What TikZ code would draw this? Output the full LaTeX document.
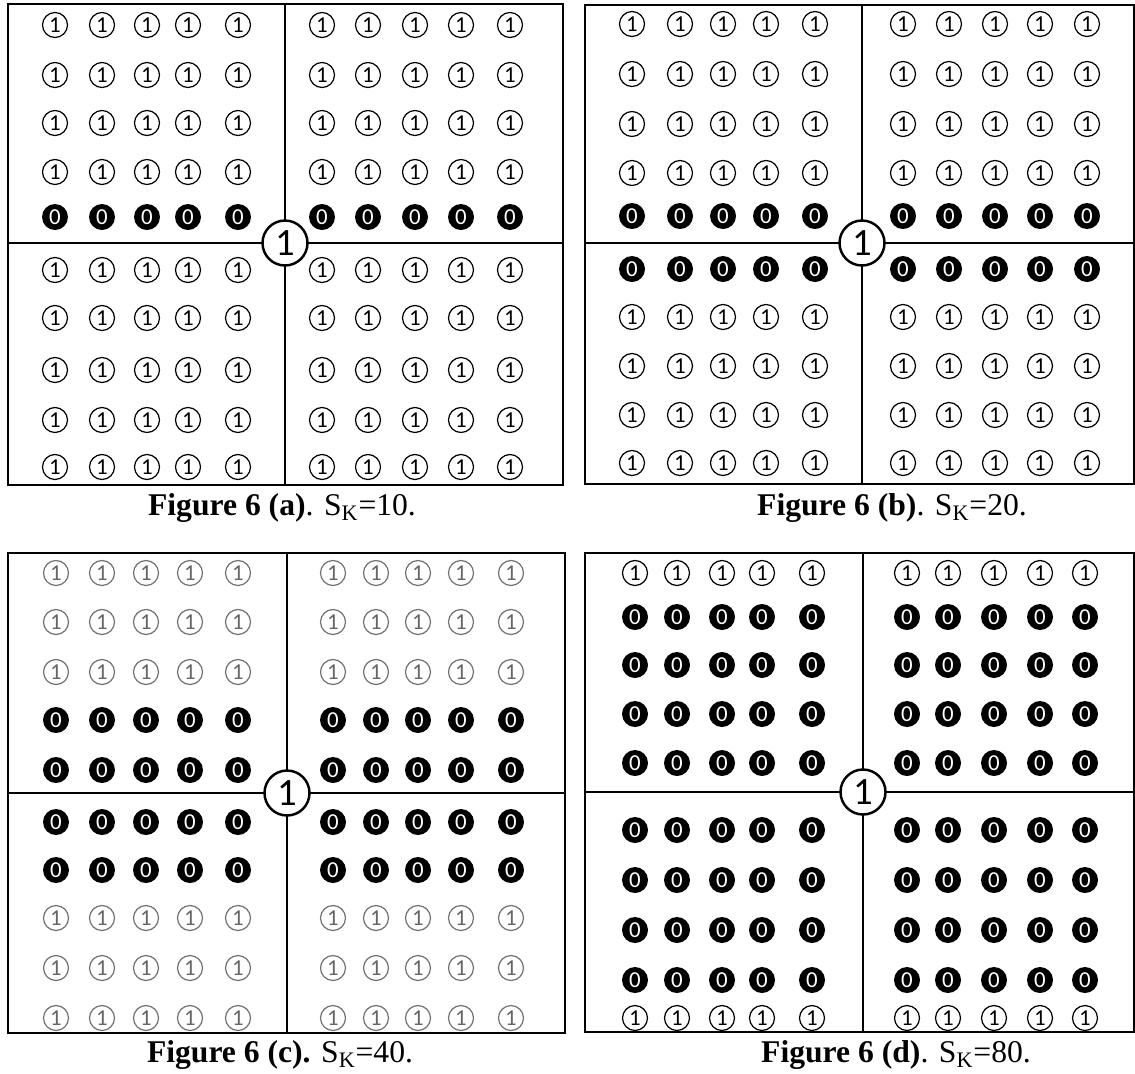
\documentclass[tikz,border=0pt]{standalone}
\usepackage{fontspec}
\setmainfont{Liberation Serif}
\newfontfamily\digitfont{Carlito}
\usetikzlibrary{positioning}

\begin{document}
\begin{tikzpicture}[x=0.02cm, y=-0.02cm]
  \tikzset{
    frame/.style={draw, line width=1.6pt},
    divider/.style={draw, line width=0.9pt},
    one/.style={circle, draw, line width=0.7pt, minimum size=0.5cm, inner sep=0pt, font=\digitfont\fontsize{13}{13}\selectfont},
    grayone/.style={one, draw=black!55, text=black!60},
    zero/.style={circle, fill=black, text=white, minimum size=0.52cm, inner sep=0pt, font=\digitfont\fontsize{13}{13}\selectfont},
    hub/.style={circle, draw, fill=white, line width=1.4pt, minimum size=0.9cm, inner sep=0pt, font=\digitfont\fontsize{22}{22}\selectfont},
    caption/.style={font=\fontsize{18}{18}\selectfont}
  }
  \useasboundingbox (0,0) rectangle (1135,1073);

  % Figure 6 (a)
  \begin{scope}
    \draw[frame] (8,4) rectangle (563,485);
    \draw[divider] (285,4) -- (285,485);
    \draw[divider] (8,243) -- (563,243);
    \foreach \y/\k/\d [count=\r] in {25/one/1,75/one/1,123/one/1,172/one/1,217/zero/0,
                                   270/one/1,318/one/1,370/one/1,420/one/1,467/one/1}
      \foreach \x [count=\c] in {55,102,147,188,238,322,368,415,461,510}
        \node[\k] (a-\r-\c) at (\x,\y) {\d};
    \node[hub] (hub-a) at (285,243) {1};
    \node[caption] (cap-a) at (282,508) {\textbf{Figure 6 (a)}. S\textsubscript{K}=10.};
  \end{scope}

  % Figure 6 (b)
  \begin{scope}
    \draw[frame] (585,5) rectangle (1134,484);
    \draw[divider] (862,5) -- (862,484);
    \draw[divider] (585,243) -- (1134,243);
    \foreach \y/\k/\d [count=\r] in {24/one/1,74/one/1,124/one/1,173/one/1,216/zero/0,
                                   269/zero/0,317/one/1,366/one/1,415/one/1,463/one/1}
      \foreach \x [count=\c] in {632,680,723,766,815,903,949,995,1040,1087}
        \node[\k] (b-\r-\c) at (\x,\y) {\d};
    \node[hub] (hub-b) at (862,243) {1};
    \node[caption] (cap-b) at (892,508) {\textbf{Figure 6 (b)}. S\textsubscript{K}=20.};
  \end{scope}

  % Figure 6 (c)
  \begin{scope}
    \draw[frame] (8,553) rectangle (565,1033);
    \draw[divider] (287,553) -- (287,1033);
    \draw[divider] (8,793) -- (565,793);
    \foreach \y/\k/\d [count=\r] in {573/grayone/1,622/grayone/1,672/grayone/1,720/zero/0,770/zero/0,
                                   822/zero/0,870/zero/0,918/grayone/1,968/grayone/1,1018/grayone/1}
      \foreach \x [count=\c] in {56,102,146,190,238,333,376,418,461,511}
        \node[\k] (c-\r-\c) at (\x,\y) {\d};
    \node[hub] (hub-c) at (287,793) {1};
    \node[caption] (cap-c) at (280,1055) {\textbf{Figure 6 (c).} S\textsubscript{K}=40.};
  \end{scope}

  % Figure 6 (d)
  \begin{scope}
    \draw[frame] (585,553) rectangle (1134,1032);
    \draw[divider] (863,553) -- (863,1032);
    \draw[divider] (585,792) -- (1134,792);
    \foreach \y/\k/\d [count=\r] in {573/one/1,617/zero/0,665/zero/0,714/zero/0,763/zero/0,
                                   830/zero/0,880/zero/0,930/zero/0,980/zero/0,1018/one/1}
      \foreach \x [count=\c] in {635,677,722,762,812,907,948,994,1040,1085}
        \node[\k] (d-\r-\c) at (\x,\y) {\d};
    \node[hub] (hub-d) at (863,792) {1};
    \node[caption] (cap-d) at (896,1055) {\textbf{Figure 6 (d)}. S\textsubscript{K}=80.};
  \end{scope}
\end{tikzpicture}
\end{document}
